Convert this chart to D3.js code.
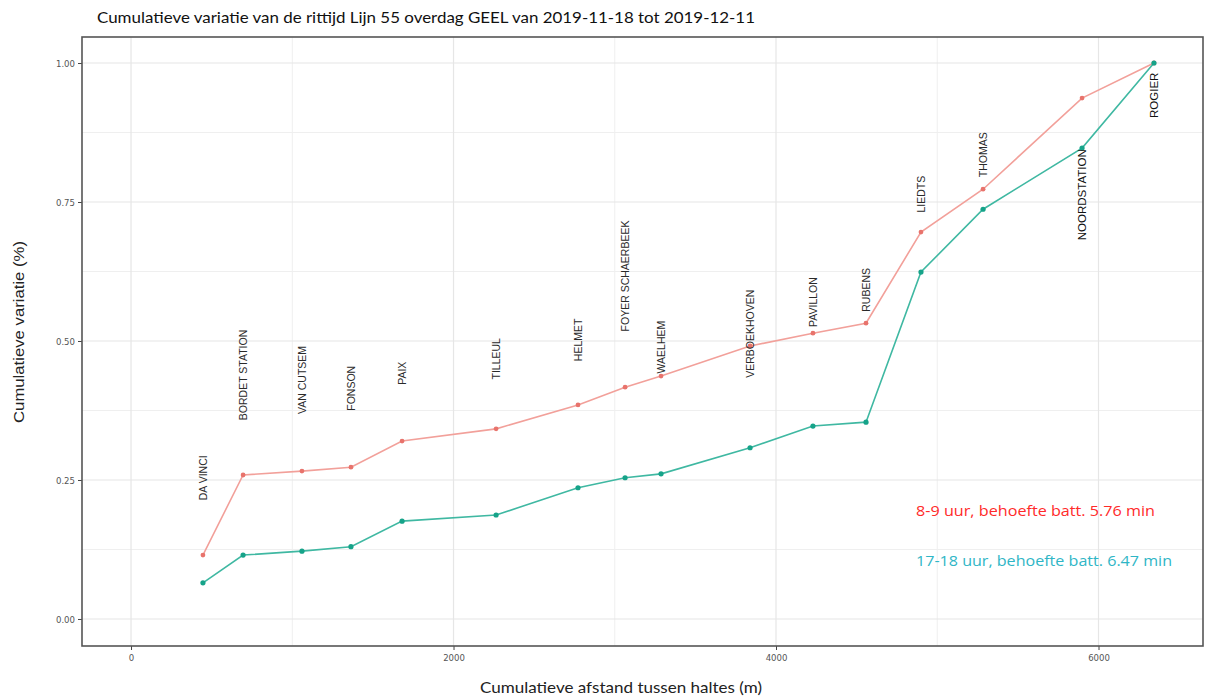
<!DOCTYPE html>
<html>
<head>
<meta charset="utf-8">
<script src="https://cdn.jsdelivr.net/npm/d3@7"></script>
<style>
  html, body { margin: 0; padding: 0; background: #fff; }
  svg { display: block; }
</style>
</head>
<body>
<svg id="chart" width="1206" height="697"></svg>
<script>
// ---- Data ----
const stops = ["DA VINCI","BORDET STATION","VAN CUTSEM","FONSON","PAIX","TILLEUL","HELMET","FOYER SCHAERBEEK","WAELHEM","VERBOEKHOVEN","PAVILLON","RUBENS","LIEDTS","THOMAS","NOORDSTATION","ROGIER"];
const distance = [446, 695, 1060, 1364, 1681, 2264, 2772, 3064, 3287, 3839, 4229, 4558, 4899, 5284, 5898, 6344];
const morning = [0.115, 0.259, 0.266, 0.273, 0.320, 0.342, 0.385, 0.417, 0.437, 0.491, 0.514, 0.532, 0.696, 0.773, 0.937, 1.000];
const evening = [0.065, 0.115, 0.122, 0.130, 0.176, 0.187, 0.236, 0.254, 0.261, 0.308, 0.347, 0.354, 0.624, 0.737, 0.847, 1.000];
const labelY = [0.254, 0.439, 0.430, 0.415, 0.442, 0.468, 0.502, 0.617, 0.489, 0.513, 0.570, 0.592, 0.764, 0.835, 0.763, 0.942];
const xTicks = [0, 2000, 4000, 6000];
const xMinor = [1000, 3000, 5000];
const yTicks = [0, 0.25, 0.5, 0.75, 1.0];
const yMinor = [0.125, 0.375, 0.625, 0.875];
const title = "Cumulatieve variatie van de rittijd Lijn 55 overdag GEEL van 2019-11-18 tot 2019-12-11";
const xTitle = "Cumulatieve afstand tussen haltes (m)";
const yTitle = "Cumulatieve variatie (%)";
const legendTexts = ["8-9 uur, behoefte batt. 5.76 min", "17-18 uur, behoefte batt. 6.47 min"];

// ---- Layout ----
const svg = d3.select("#chart");
const L = 82, R = 1203, T = 37, B = 646;
const x = d3.scaleLinear().domain([-304, 6648]).range([L, R]);
const y = d3.scaleLinear().domain([-0.0486, 1.0468]).range([B, T]);

const redLine = "#f2a09a", redPt = "#e8736c";
const grnLine = "#3fb8a2", grnPt = "#16a389";

// grid
const g = svg.append("g");
g.selectAll(".vminor").data(xMinor).enter().append("line")
  .attr("x1", d => x(d)).attr("x2", d => x(d)).attr("y1", T).attr("y2", B)
  .attr("stroke", "#efefef").attr("stroke-width", 1);
g.selectAll(".hminor").data(yMinor).enter().append("line")
  .attr("y1", d => y(d)).attr("y2", d => y(d)).attr("x1", L).attr("x2", R)
  .attr("stroke", "#efefef").attr("stroke-width", 1);
g.selectAll(".vmajor").data(xTicks).enter().append("line")
  .attr("x1", d => x(d)).attr("x2", d => x(d)).attr("y1", T).attr("y2", B)
  .attr("stroke", "#e6e6e6").attr("stroke-width", 1.2);
g.selectAll(".hmajor").data(yTicks).enter().append("line")
  .attr("y1", d => y(d)).attr("y2", d => y(d)).attr("x1", L).attr("x2", R)
  .attr("stroke", "#e6e6e6").attr("stroke-width", 1.2);

// axes
const xAxis = d3.axisBottom(x).tickValues(xTicks).tickSize(4).tickPadding(4).tickFormat(d3.format("d"));
const yAxis = d3.axisLeft(y).tickValues(yTicks).tickSize(4).tickPadding(3).tickFormat(d3.format(".2f"));
const gx = svg.append("g").attr("transform", `translate(0,${B})`).call(xAxis);
const gy = svg.append("g").attr("transform", `translate(${L},0)`).call(yAxis);
[gx, gy].forEach(a => {
  a.select(".domain").remove();
  a.selectAll(".tick line").attr("stroke", "#444");
  a.selectAll(".tick text").attr("fill", "#555").attr("font-size", 9.5)
    .attr("font-family", "'Liberation Sans Narrow','DejaVu Sans Condensed','Liberation Sans',sans-serif");
});

// panel border
svg.append("rect").attr("x", L).attr("y", T).attr("width", R - L).attr("height", B - T)
  .attr("fill", "none").attr("stroke", "#555").attr("stroke-width", 1.6);

// lines
const line = vals => d3.line().x((d, i) => x(distance[i])).y(d => y(d))(vals);
svg.append("path").attr("d", line(morning)).attr("fill", "none").attr("stroke", redLine).attr("stroke-width", 1.6);
svg.append("path").attr("d", line(evening)).attr("fill", "none").attr("stroke", grnLine).attr("stroke-width", 1.6);
svg.selectAll(".pr").data(morning).enter().append("circle")
  .attr("cx", (d, i) => x(distance[i])).attr("cy", d => y(d)).attr("r", 2.4).attr("fill", redPt);
svg.selectAll(".pg").data(evening).enter().append("circle")
  .attr("cx", (d, i) => x(distance[i])).attr("cy", d => y(d)).attr("r", 2.6).attr("fill", grnPt);

// stop labels
svg.selectAll(".lbl").data(stops).enter().append("text")
  .attr("transform", (d, i) => `translate(${x(distance[i]) + 4},${y(labelY[i])}) rotate(-90)`)
  .attr("text-anchor", "middle")
  .attr("font-family", "'Liberation Sans',Arial,sans-serif")
  .attr("font-size", (d, i) => i >= 14 ? 11.5 : 10.5)
  .attr("fill", (d, i) => i >= 14 ? "#111" : "#2a2a2a")
  .text(d => d);

// titles
svg.append("text").attr("x", 97).attr("y", 23).attr("font-family", "Lato,'Open Sans',sans-serif")
  .attr("font-size", 15).attr("fill", "#111").attr("textLength", 658).attr("lengthAdjust", "spacingAndGlyphs").text(title);
svg.append("text").attr("x", 621).attr("y", 693).attr("text-anchor", "middle").attr("font-family", "Lato,'Open Sans',sans-serif")
  .attr("font-size", 16).attr("fill", "#222").attr("textLength", 282).attr("lengthAdjust", "spacingAndGlyphs").text(xTitle);
svg.append("text").attr("transform", "translate(24,332) rotate(-90)").attr("text-anchor", "middle")
  .attr("font-family", "'Liberation Sans',Arial,sans-serif").attr("font-size", 15).attr("fill", "#222")
  .attr("textLength", 182).attr("lengthAdjust", "spacingAndGlyphs").text(yTitle);

// legend annotations
const legColors = ["#ff2a2a", "#2fb6c6"];
const legY = [516, 566];
const legW = [239, 256];
svg.selectAll(".leg").data(legendTexts).enter().append("text")
  .attr("x", 916).attr("y", (d, i) => legY[i]).attr("font-family", "'Open Sans',Lato,sans-serif")
  .attr("font-size", 15).attr("fill", (d, i) => legColors[i])
  .attr("textLength", (d, i) => legW[i]).attr("lengthAdjust", "spacingAndGlyphs").text(d => d);
</script>
</body>
</html>
